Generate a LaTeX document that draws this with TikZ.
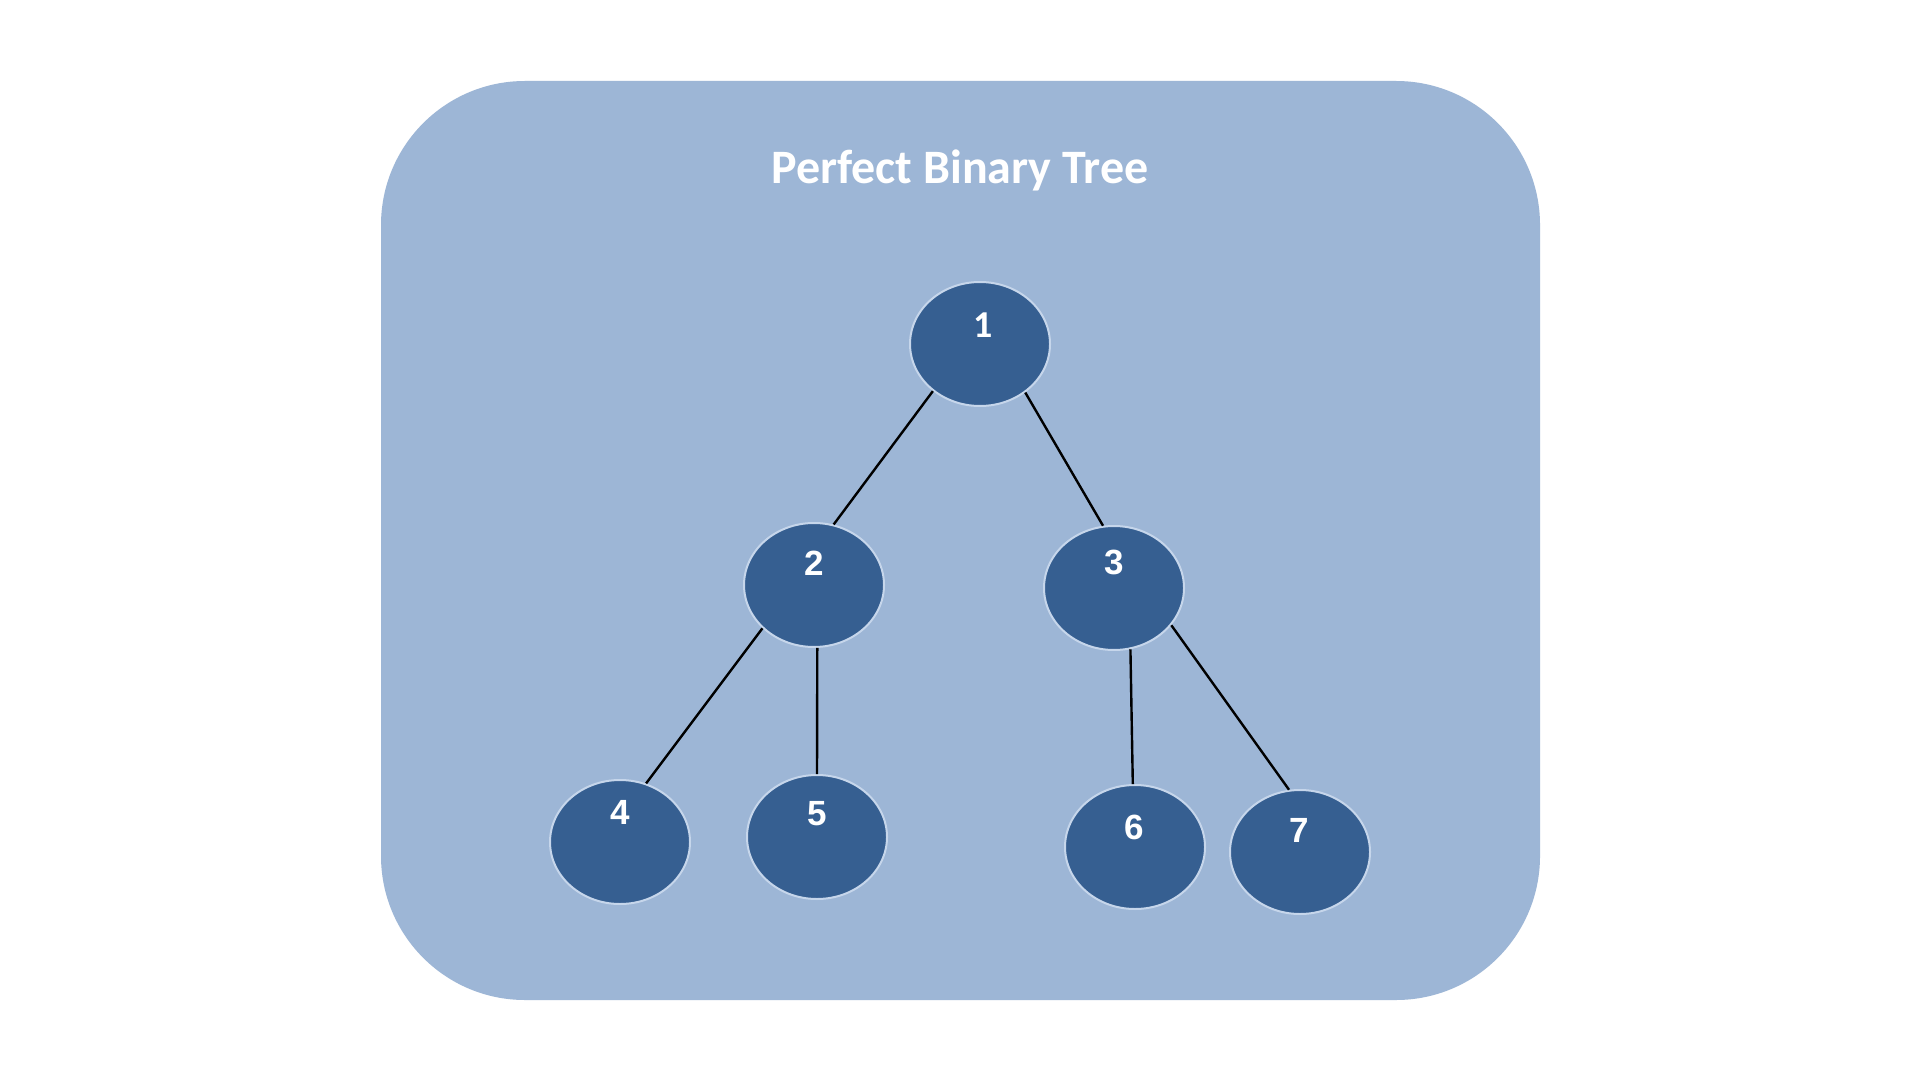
\documentclass[tikz,border=0pt]{standalone}
\usepackage{fontspec}
\setmainfont{Carlito}
\newfontfamily\digitfont{Liberation Sans}
\usetikzlibrary{shapes.geometric}
\definecolor{panelblue}{HTML}{9DB6D6}
\definecolor{nodeblue}{HTML}{365F91}
\definecolor{nodeedge}{HTML}{C6D6EB}
\tikzset{
  tnode/.style={ellipse, fill=nodeblue, draw=nodeedge, line width=1pt,
    minimum width=70pt, minimum height=62pt, inner sep=0pt},
  numtxt/.style={text=white, font=\digitfont\bfseries\fontsize{17.5pt}{20pt}\selectfont, inner sep=0pt},
  onetxt/.style={text=white, font=\bfseries\fontsize{19pt}{22pt}\selectfont, inner sep=0pt},
  edgeline/.style={draw=black, line width=1.2pt},
}
\begin{document}
\begin{tikzpicture}[x=0.5pt, y=-0.5pt]
\useasboundingbox (0,0) rectangle (1920,1080);
\fill[white] (0,0) rectangle (1920,1080);
\fill[panelblue, rounded corners=72pt] (381,81) rectangle (1540,1000);
\node[text=white, font=\bfseries\fontsize{24pt}{28pt}\selectfont, inner sep=0pt] (title) at (960,170) {Perfect Binary Tree};

\node[tnode] (n1) at (980,344) {};
\node[tnode] (n2) at (814,585) {};
\node[tnode] (n3) at (1114,588) {};
\node[tnode] (n4) at (620,842) {};
\node[tnode] (n5) at (817,837) {};
\node[tnode] (n6) at (1135,847) {};
\node[tnode] (n7) at (1300,852) {};

\node[onetxt] (t1) at (983,325) {1};
\node[numtxt] (t2) at (814,563) {2};
\node[numtxt] (t3) at (1114,562) {3};
\node[numtxt] (t4) at (620,812) {4};
\node[numtxt] (t5) at (817,814) {5};
\node[numtxt] (t6) at (1134,827) {6};
\node[numtxt] (t7) at (1299,830) {7};

\draw[edgeline] (n1.-135) -- (n2.72);
\draw[edgeline] (n1.-47) -- (n3.100);
\draw[edgeline] (n2.-140) -- (n4.66);
\draw[edgeline] (n2.-87) -- (n5.90);
\draw[edgeline] (n3.-75) -- (n6.92);
\draw[edgeline] (n3.-33) -- (n7.100);
\end{tikzpicture}
\end{document}
